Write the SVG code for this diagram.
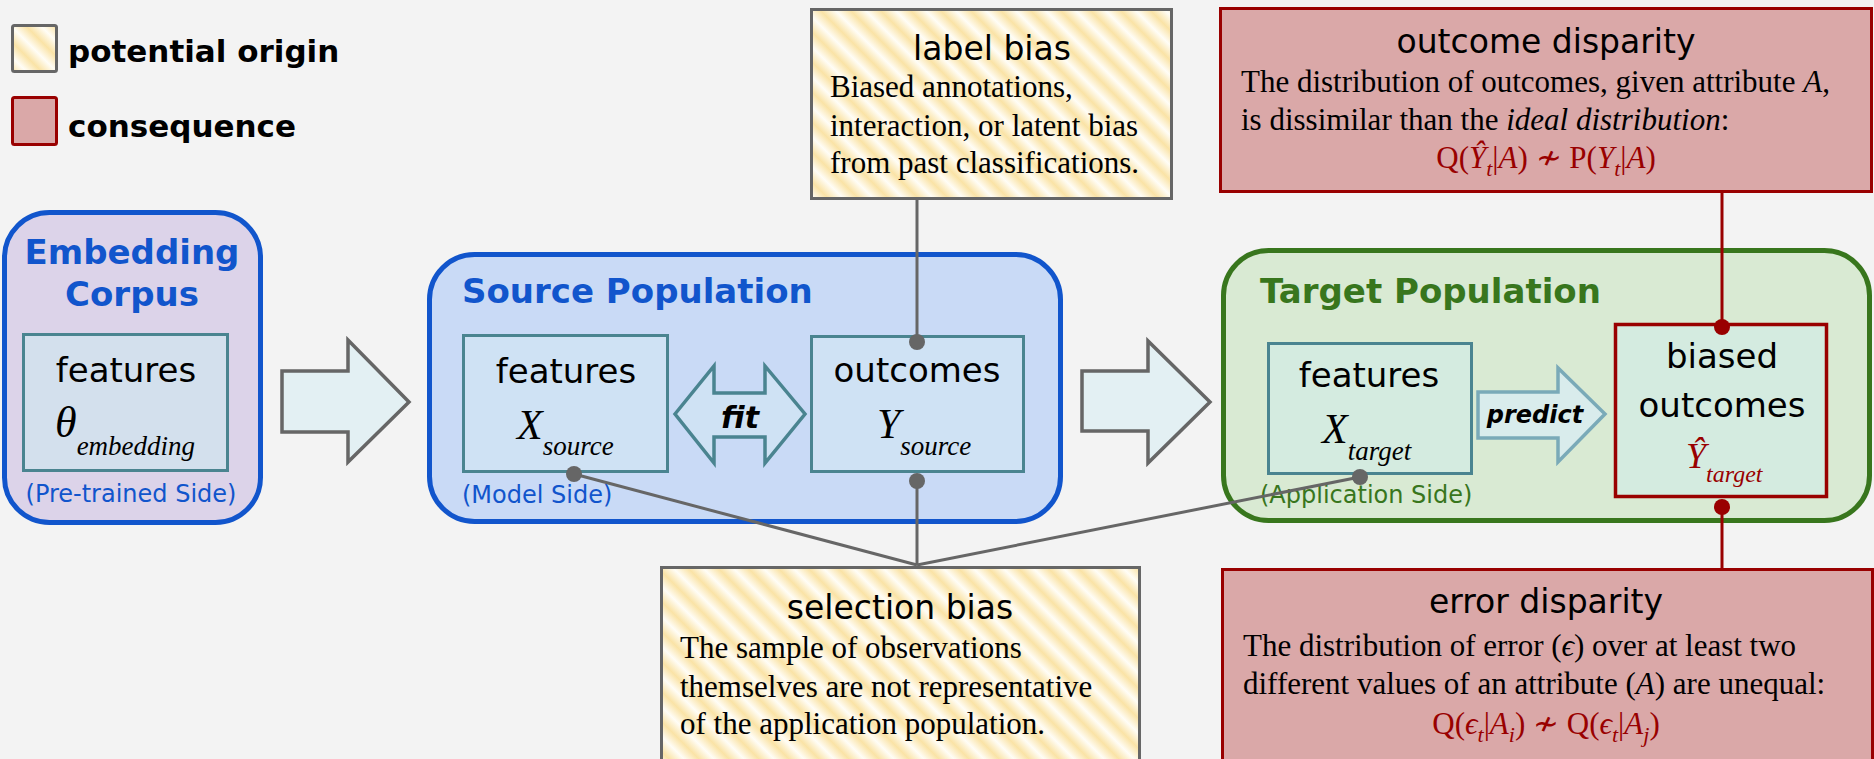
<svg xmlns="http://www.w3.org/2000/svg" width="1874" height="759" viewBox="0 0 1874 759">
  <defs>
    <!-- soft diagonal gold/white stripes for "potential origin" boxes -->
    <linearGradient id="stripes" gradientUnits="userSpaceOnUse" x1="0" y1="0" x2="15" y2="-15" spreadMethod="repeat">
      <stop offset="0" stop-color="#fae3a6"/>
      <stop offset="0.5" stop-color="#fffdf6"/>
      <stop offset="1" stop-color="#fae3a6"/>
    </linearGradient>
    <style>
      .sans { font-family: "DejaVu Sans", Verdana, sans-serif; }
      .hdr { font-family: "DejaVu Sans", Verdana, sans-serif; font-weight: bold; font-size: 34px; }
      .lbl { font-family: "DejaVu Sans", Verdana, sans-serif; font-size: 34px; fill: #000; text-anchor: middle; }
      .side { font-family: "DejaVu Sans", Verdana, sans-serif; font-size: 24px; }
      .math { font-family: "Liberation Serif", "Times New Roman", serif; font-style: italic; }
      .title { font-family: "DejaVu Sans", Verdana, sans-serif; font-size: 33px; text-anchor: middle; fill: #000; }
      .body { font-family: "Liberation Serif", "Times New Roman", serif; font-size: 31px; fill: #000; }
      .formula { font-family: "Liberation Serif", "Times New Roman", serif; font-size: 31px; fill: #990000; text-anchor: middle; }
      .origin { fill: url(#stripes); stroke: #666666; stroke-width: 3; }
      .conseq { fill: #daa8a8; stroke: #990000; stroke-width: 3; }
      .inner { stroke: #4a8490; stroke-width: 3; }
      .bigarrow { fill: #e3f0f3; stroke: #666666; stroke-width: 3.5; stroke-linejoin: miter; }
      .link { stroke: #666666; stroke-width: 3; fill: none; }
      .redlink { stroke: #990000; stroke-width: 3; fill: none; }
      .dot { fill: #666666; }
      .reddot { fill: #990000; }
      .it { font-style: italic; }
    </style>
  </defs>

  <rect width="1874" height="759" fill="#f3f3f3"/>

  <!-- legend -->
  <g id="legend">
    <rect class="origin" x="12.5" y="25.5" width="44" height="46" rx="2"/>
    <text class="sans" x="68" y="62" font-size="31" font-weight="bold">potential origin</text>
    <rect class="conseq" x="12.5" y="97.5" width="44" height="47" rx="2"/>
    <text class="sans" x="68" y="137" font-size="31" font-weight="bold">consequence</text>
  </g>

  <!-- embedding corpus -->
  <g id="embedding-corpus">
    <rect x="4.5" y="212.5" width="256" height="310" rx="45" fill="#dcd3e9" stroke="#1155cc" stroke-width="5"/>
    <text class="hdr" x="132" y="264" fill="#1155cc" text-anchor="middle">Embedding</text>
    <text class="hdr" x="132" y="306" fill="#1155cc" text-anchor="middle">Corpus</text>
    <g id="embedding-features">
      <rect class="inner" x="23.5" y="334.5" width="204" height="136" fill="#d3e0ed"/>
      <text class="lbl" x="126" y="382">features</text>
      <text class="math" x="55" y="437" font-size="44">θ<tspan dy="18" font-size="27">embedding</tspan></text>
    </g>
    <text class="side" x="131" y="502" fill="#1155cc" text-anchor="middle">(Pre-trained Side)</text>
  </g>

  <g id="arrow-embedding-source">
    <polygon class="bigarrow" points="282,371 348,371 348,340 409,402 348,462 348,432 282,432"/>
  </g>

  <!-- source population -->
  <g id="source-population">
    <rect x="429.5" y="254.5" width="631" height="267" rx="45" fill="#c9daf6" stroke="#1155cc" stroke-width="5"/>
    <text class="hdr" x="462" y="303" fill="#1155cc">Source Population</text>
    <text class="side" x="462" y="503" fill="#1155cc">(Model Side)</text>
  </g>

  <g id="source-features">
    <rect class="inner" x="463.5" y="335.5" width="204" height="136" fill="#cfe2f4"/>
    <text class="lbl" x="566" y="383">features</text>
    <text class="math" x="517" y="439" font-size="42">X<tspan dy="16" font-size="27">source</tspan></text>
  </g>

  <g id="fit">
    <polygon points="675,414 714,366 714,393 765,393 765,366 805,414 765,463 765,437 714,437 714,463" fill="#cfe2f4" stroke="#4a8490" stroke-width="3.5"/>
    <text class="sans" x="740" y="428" font-size="30" font-weight="bold" font-style="italic" text-anchor="middle">fit</text>
  </g>

  <g id="source-outcomes">
    <rect class="inner" x="811.5" y="336.5" width="212" height="135" fill="#cfe2f4"/>
    <text class="lbl" x="917" y="382">outcomes</text>
    <text class="math" x="877" y="438" font-size="42">Y<tspan dy="17" font-size="27">source</tspan></text>
  </g>

  <g id="arrow-source-target">
    <polygon class="bigarrow" points="1082,371 1148,371 1148,341 1210,402 1148,463 1148,431 1082,431"/>
  </g>

  <!-- target population -->
  <g id="target-population">
    <rect x="1223.5" y="250.5" width="646" height="270" rx="45" fill="#d9ead3" stroke="#38761d" stroke-width="5"/>
    <text class="hdr" x="1260" y="303" fill="#38761d">Target Population</text>
    <text class="side" x="1260" y="503" fill="#38761d">(Application Side)</text>
  </g>

  <g id="target-features">
    <rect class="inner" x="1268.5" y="343.5" width="203" height="130" fill="#d4ebe0"/>
    <text class="lbl" x="1369" y="387">features</text>
    <text class="math" x="1322" y="443" font-size="42">X<tspan dy="17" font-size="27">target</tspan></text>
  </g>

  <g id="predict">
    <polygon points="1478,392 1558,392 1558,368 1605,414 1558,462 1558,438 1478,438" fill="#d9ecec" stroke="#7aaab8" stroke-width="3.5"/>
    <text class="sans" x="1535" y="423" font-size="24" font-weight="bold" font-style="italic" text-anchor="middle">predict</text>
  </g>

  <g id="biased-outcomes">
    <rect x="1615.5" y="324.5" width="211" height="172" fill="#d4ebe0" stroke="#990000" stroke-width="3.5"/>
    <text class="lbl" x="1722" y="368">biased</text>
    <text class="lbl" x="1722" y="417">outcomes</text>
    <text class="math" x="1686" y="468" font-size="36" fill="#990000">Ŷ<tspan dy="14" font-size="24">target</tspan></text>
  </g>

  <!-- potential origins -->
  <g id="label-bias">
    <rect class="origin" x="811.5" y="9.5" width="360" height="189"/>
    <text class="title" x="992" y="60">label bias</text>
    <text class="body" x="830" y="97">Biased annotations,</text>
    <text class="body" x="830" y="136">interaction, or latent bias</text>
    <text class="body" x="830" y="173">from past classifications.</text>
  </g>

  <g id="selection-bias">
    <rect class="origin" x="661.5" y="567.5" width="478" height="205"/>
    <text class="title" x="900" y="619">selection bias</text>
    <text class="body" x="680" y="658">The sample of observations</text>
    <text class="body" x="680" y="697">themselves are not representative</text>
    <text class="body" x="680" y="734">of the application population.</text>
  </g>

  <!-- consequences -->
  <g id="outcome-disparity">
    <rect class="conseq" x="1220.5" y="8.5" width="651" height="183"/>
    <text class="title" x="1546" y="53">outcome disparity</text>
    <text class="body" x="1241" y="92">The distribution of outcomes, given attribute <tspan class="it">A</tspan>,</text>
    <text class="body" x="1241" y="130">is dissimilar than the <tspan class="it">ideal distribution</tspan>:</text>
    <text class="formula" x="1546" y="168">Q(<tspan class="it">Ŷ</tspan><tspan class="it" dy="8" font-size="22">t</tspan><tspan dy="-8">|</tspan><tspan class="it">A</tspan>) ≁ P(<tspan class="it">Y</tspan><tspan class="it" dy="8" font-size="22">t</tspan><tspan dy="-8">|</tspan><tspan class="it">A</tspan>)</text>
  </g>

  <g id="error-disparity">
    <rect class="conseq" x="1222.5" y="569.5" width="650" height="205"/>
    <text class="title" x="1546" y="613">error disparity</text>
    <text class="body" x="1243" y="656">The distribution of error (<tspan class="it">ϵ</tspan>) over at least two</text>
    <text class="body" x="1243" y="694">different values of an attribute (<tspan class="it">A</tspan>) are unequal:</text>
    <text class="formula" x="1546" y="734">Q(<tspan class="it">ϵ</tspan><tspan class="it" dy="8" font-size="22">t</tspan><tspan dy="-8">|</tspan><tspan class="it">A</tspan><tspan class="it" dy="8" font-size="22">i</tspan><tspan dy="-8">) ≁ Q(</tspan><tspan class="it">ϵ</tspan><tspan class="it" dy="8" font-size="22">t</tspan><tspan dy="-8">|</tspan><tspan class="it">A</tspan><tspan class="it" dy="8" font-size="22">j</tspan><tspan dy="-8">)</tspan></text>
  </g>

  <!-- connectors, drawn over the population panels -->
  <g id="connectors">
    <line class="link" x1="917" y1="200" x2="917" y2="342"/>
    <line class="link" x1="574" y1="474" x2="917" y2="565"/>
    <line class="link" x1="917" y1="481" x2="917" y2="565"/>
    <line class="link" x1="1360" y1="477" x2="917" y2="565"/>
    <line class="redlink" x1="1722" y1="193" x2="1722" y2="327"/>
    <line class="redlink" x1="1722" y1="507" x2="1722" y2="568"/>
    <circle class="dot" cx="917" cy="342" r="8"/>
    <circle class="dot" cx="574" cy="474" r="8"/>
    <circle class="dot" cx="917" cy="481" r="8"/>
    <circle class="dot" cx="1360" cy="477" r="8"/>
    <circle class="reddot" cx="1722" cy="327" r="8"/>
    <circle class="reddot" cx="1722" cy="507" r="8"/>
  </g>
</svg>
